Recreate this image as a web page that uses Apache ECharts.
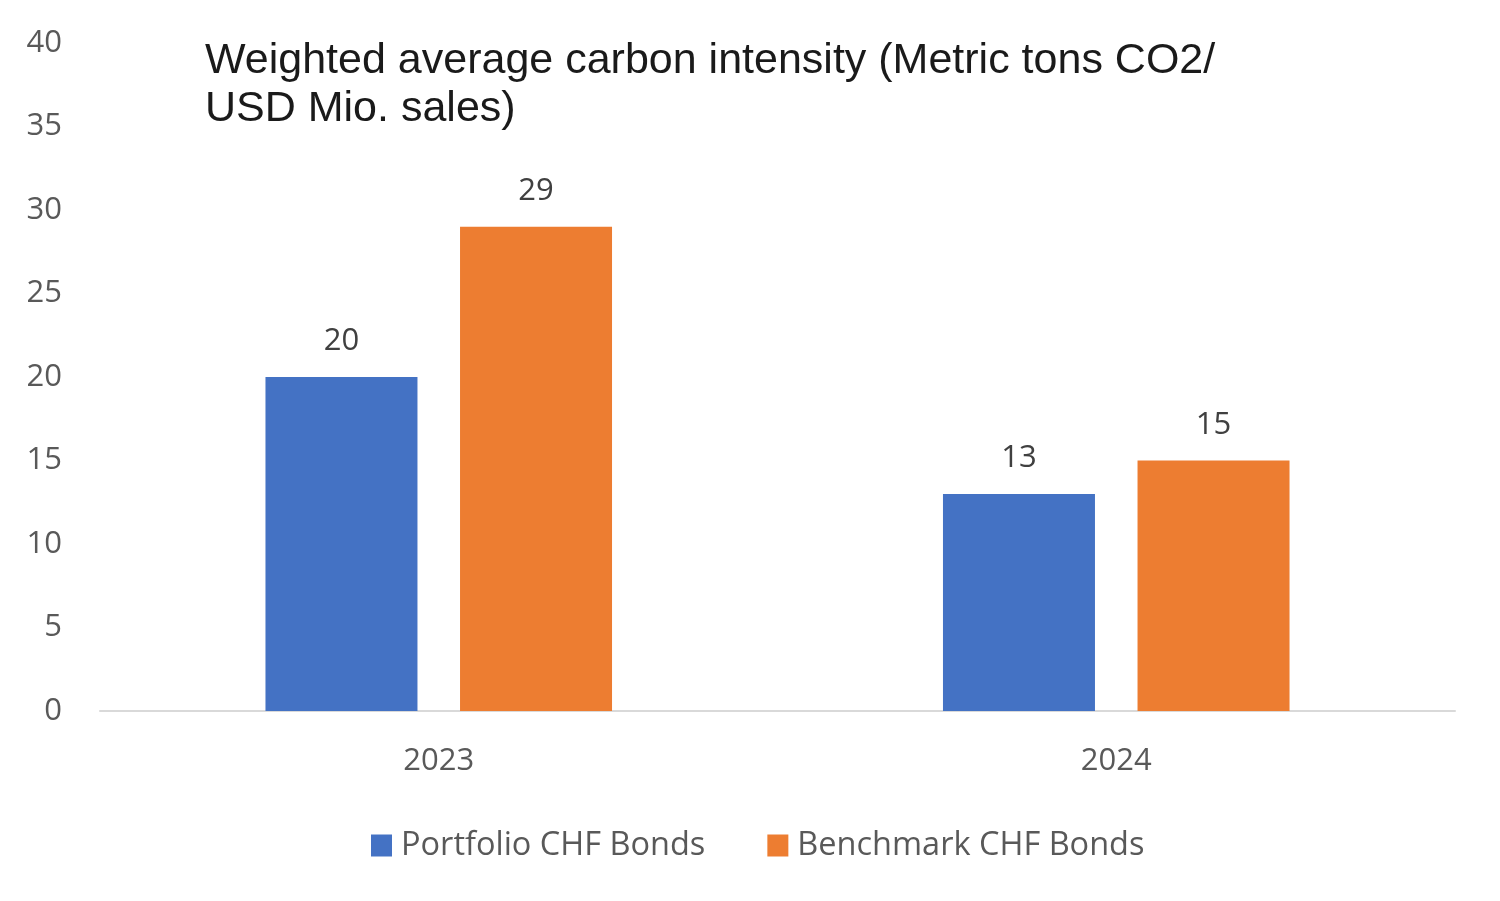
<!DOCTYPE html>
<html>
<head>
<meta charset="utf-8">
<script src="https://cdn.jsdelivr.net/npm/echarts@6/dist/echarts.min.js"></script>
<style>
html,body{margin:0;padding:0;background:#fff;}
#c{width:1500px;height:901px;}
</style>
</head>
<body>
<div id="c"></div>
<script>
const categories = ['2023', '2024'];
const portfolio = [20, 13];
const benchmark = [29, 15];
const seriesNames = ['Portfolio CHF Bonds', 'Benchmark CHF Bonds'];
const titleText = 'Weighted average carbon intensity (Metric tons CO2/\nUSD Mio. sales)';

const chart = echarts.init(document.getElementById('c'));
const labelFont = '"Open Sans", "Noto Sans", sans-serif';
chart.setOption({
  backgroundColor: '#ffffff',
  animation: false,
  title: {
    text: titleText,
    left: 200,
    top: 32,
    textStyle: {
      fontFamily: '"Liberation Sans", Arial, sans-serif',
      fontSize: 43,
      fontWeight: 'normal',
      color: '#1a1a1a',
      lineHeight: 48
    }
  },
  legend: {
    data: seriesNames,
    top: 824,
    left: 366,
    itemWidth: 21,
    itemHeight: 22,
    itemGap: 62,
    icon: 'rect',
    textStyle: {
      fontFamily: labelFont,
      fontSize: 32.5,
      color: '#595959',
      padding: [0, 0, 0, 4]
    }
  },
  grid: {
    left: 100,
    right: 45,
    top: 43,
    bottom: 190,
    containLabel: false
  },
  xAxis: {
    type: 'category',
    data: categories,
    axisLine: { lineStyle: { color: '#d9d9d9', width: 2 } },
    axisTick: { show: false },
    axisLabel: {
      fontFamily: labelFont,
      fontSize: 31,
      color: '#595959',
      margin: 35
    }
  },
  yAxis: {
    type: 'value',
    min: 0,
    max: 40,
    interval: 5,
    axisLine: { show: false },
    axisTick: { show: false },
    splitLine: { show: false },
    axisLabel: {
      fontFamily: labelFont,
      fontSize: 31,
      color: '#595959',
      margin: 38
    }
  },
  series: [
    {
      name: seriesNames[0],
      type: 'bar',
      data: portfolio,
      barWidth: 152,
      barGap: '28%',
      itemStyle: { color: '#4472C4' },
      label: {
        show: true,
        position: 'top',
        distance: 20,
        fontFamily: labelFont,
        fontSize: 31,
        color: '#404040'
      }
    },
    {
      name: seriesNames[1],
      type: 'bar',
      data: benchmark,
      barWidth: 152,
      barGap: '28%',
      itemStyle: { color: '#ED7D31' },
      label: {
        show: true,
        position: 'top',
        distance: 20,
        fontFamily: labelFont,
        fontSize: 31,
        color: '#404040'
      }
    }
  ]
});
</script>
</body>
</html>
